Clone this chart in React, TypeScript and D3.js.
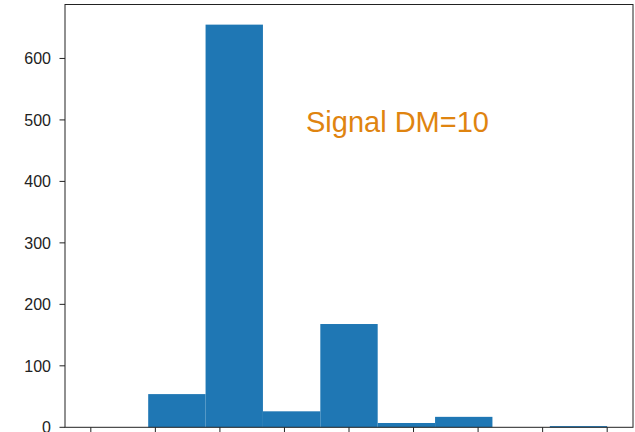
import React from "react";
import * as d3 from "d3";

const binEdges = [0, 8 / 9, 16 / 9, 24 / 9, 32 / 9, 40 / 9, 48 / 9, 56 / 9, 64 / 9, 8];
const counts = [0, 54, 655, 26, 168, 7, 17, 0, 2];
const xTicks = [0, 1, 2, 3, 4, 5, 6, 7, 8];
const yTicks = [0, 100, 200, 300, 400, 500, 600];
const annotation = "Signal DM=10";

const W = 635;
const H = 432;
const left = 65;
const right = 633;
const top = 4.5;
const bottom = 427.3;

export default function App() {
  const xMin = binEdges[0];
  const xMax = binEdges[binEdges.length - 1];
  const pad = (xMax - xMin) * 0.05;
  const x = d3.scaleLinear().domain([xMin - pad, xMax + pad]).range([left, right]);
  const yMax = (d3.max(counts) as number) * 1.05;
  const y = d3.scaleLinear().domain([0, yMax]).range([bottom, top]);

  return (
    <svg
      width={W}
      height={H}
      style={{ position: "absolute", left: 0, top: 0, background: "#fff" }}
      fontFamily="'Liberation Sans', Arial, sans-serif"
    >
      <rect x={0} y={0} width={W} height={H} fill="#fff" />
      {counts.map((c, i) =>
        c > 0 ? (
          <rect
            key={i}
            x={x(binEdges[i])}
            y={y(c)}
            width={x(binEdges[i + 1]) - x(binEdges[i])}
            height={y(0) - y(c)}
            fill="#1f77b4"
          />
        ) : null
      )}
      <text x={306} y={131.7} fontSize={29} fill="#df8410">
        {annotation}
      </text>
      <rect
        x={left}
        y={top}
        width={right - left}
        height={bottom - top}
        fill="none"
        stroke="#222"
        strokeWidth={1}
      />
      {yTicks.map((t) => (
        <g key={t}>
          <line x1={left - 5.5} x2={left} y1={y(t)} y2={y(t)} stroke="#222" strokeWidth={1} />
          {t > 0 ? (
            <text
              x={left - 14}
              y={y(t)}
              dy="0.36em"
              textAnchor="end"
              fontSize={16}
              fill="#222"
            >
              {t}
            </text>
          ) : (
            <text x={left - 14} y={H + 1} textAnchor="end" fontSize={16} fill="#222">
              {t}
            </text>
          )}
        </g>
      ))}
      {xTicks.map((t) => (
        <line key={t} x1={x(t)} x2={x(t)} y1={bottom} y2={bottom + 5.5} stroke="#222" strokeWidth={1} />
      ))}
    </svg>
  );
}
